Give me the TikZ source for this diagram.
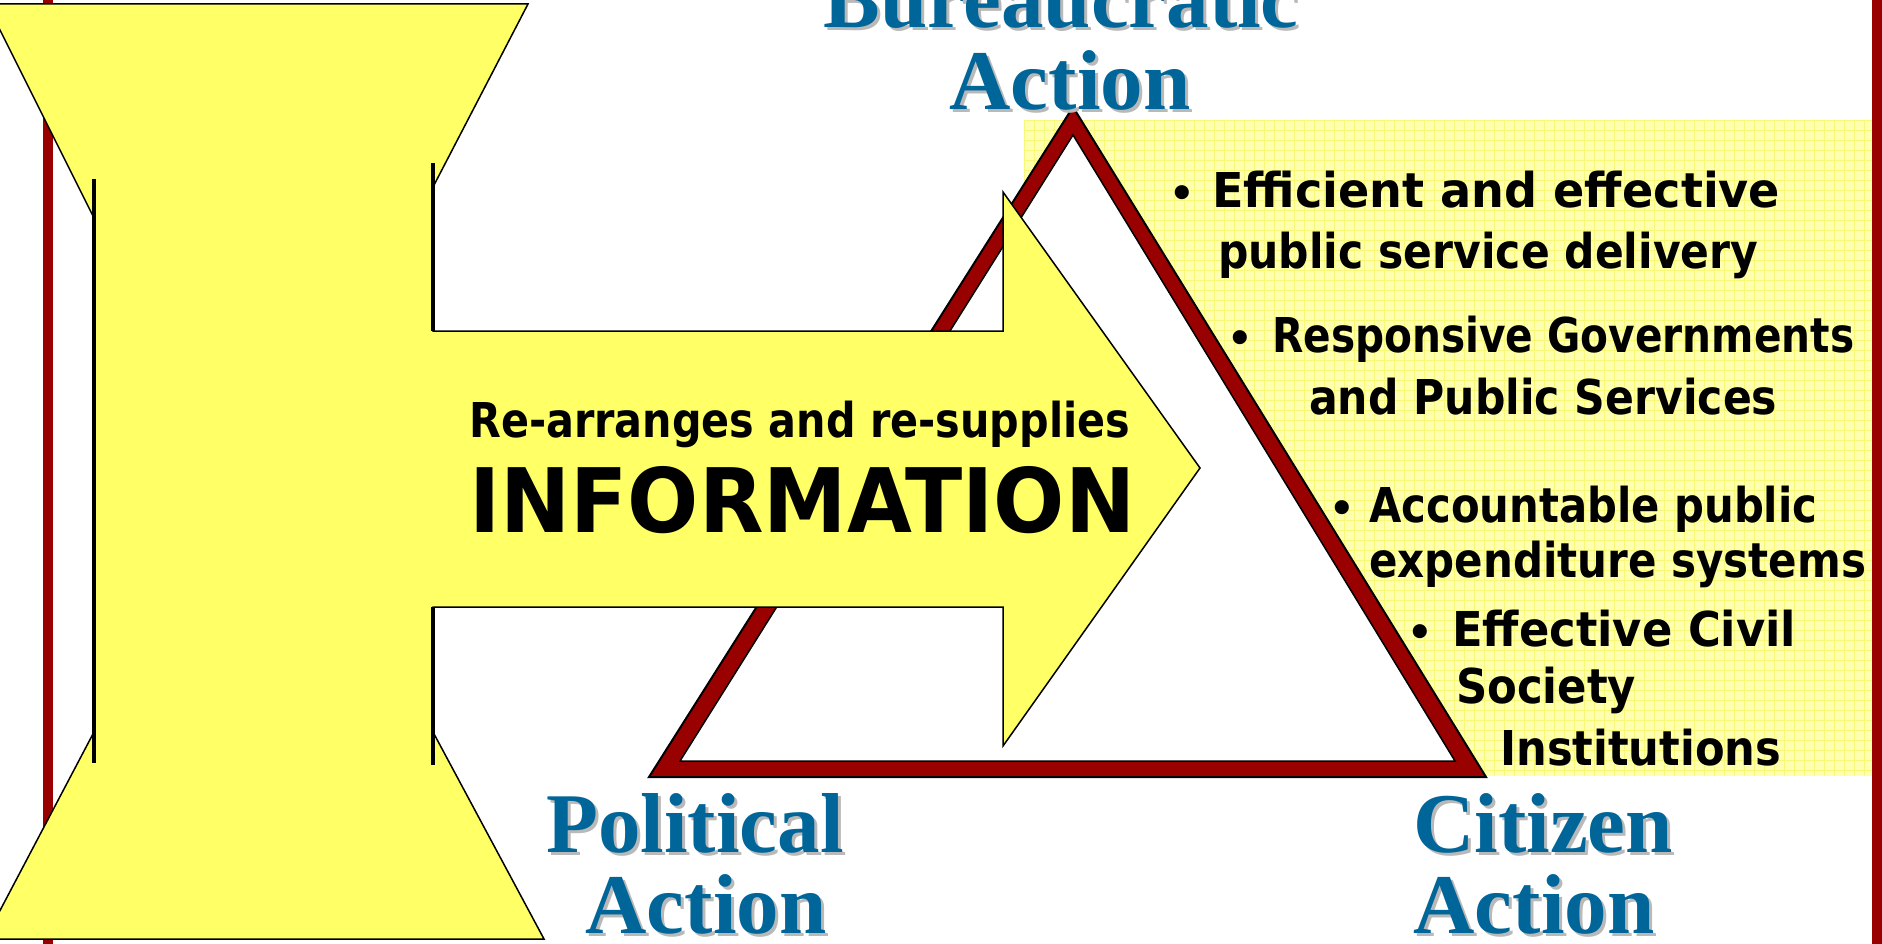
\documentclass[tikz,border=0pt]{standalone}
\usepackage{fontspec}
\setmainfont{Liberation Serif}
\newfontfamily\comicf{DejaVu Sans}
\usepackage{graphicx}
\definecolor{ylw}{RGB}{255,255,102}
\definecolor{boxy}{RGB}{255,255,176}
\definecolor{gridy}{RGB}{248,248,120}
\definecolor{dred}{RGB}{153,0,0}
\definecolor{tblue}{RGB}{0,102,153}
\definecolor{tshadow}{RGB}{185,185,185}
\newcommand\fitw[2]{\resizebox{#1pt}{\height}{#2}}
\newcommand\ttl[4]{\node[tshad] (#1s) at (#2+3,#3+3) {#4};\node[titletext] (#1) at (#2,#3) {#4};}
\newcommand\bl[5]{\node[bultext] (#1) at (#2,#4) {\fitw{#3}{#5}};}
\begin{document}
\begin{tikzpicture}[x=1pt,y=-1pt,
  titletext/.style={font=\bfseries\fontsize{85}{85}\selectfont, text=tblue, inner sep=0pt, anchor=base},
  tshad/.style={titletext, text=tshadow},
  bultext/.style={font=\comicf\bfseries\fontsize{48}{48}\selectfont, inner sep=0pt, anchor=base west},
  bigtext/.style={font=\comicf\bfseries\fontsize{89}{89}\selectfont, inner sep=0pt, anchor=base west},
  bulletdot/.style={font=\comicf\bfseries\fontsize{40}{40}\selectfont, inner sep=0pt, anchor=base},
  yshape/.style={fill=ylw, draw=black, line width=1.5pt, line join=miter},
  stemline/.style={draw=black, line width=3.5pt}
]
\useasboundingbox (0,0) rectangle (1882,944);
\clip (0,0) rectangle (1882,944);
\fill[white] (0,0) rectangle (1882,944);

% pale yellow grid box
\fill[boxy] (1024,120) rectangle (1872,776);
\foreach \gx in {1024,1034,...,1872} \draw[gridy, line width=0.7pt] (\gx,120) -- (\gx,776);
\foreach \gy in {120,130,...,776} \draw[gridy, line width=0.7pt] (1024,\gy) -- (1872,\gy);

% triangle
\filldraw[fill=dred, draw=black, line width=2pt] (1073,107) -- (649,777) -- (1486,777) -- cycle;
\filldraw[fill=white, draw=black, line width=1.5pt] (1073,135) -- (680,761) -- (1455,761) -- cycle;

% side red rules
\fill[dred] (43,0) rectangle (53,944);
\fill[dred] (1872,0) rectangle (1882,944);

% yellow I-shape with arrow
\path[yshape] (-13,4) -- (528,4) -- (433,187) -- (433,331) -- (1003,331) -- (1003,192)
  -- (1200,468) -- (1003,746) -- (1003,607) -- (433,607) -- (433,732) -- (544,939)
  -- (-15,939) -- (94,732) -- (94,218) -- cycle;
\draw[stemline] (94,179) -- (94,763);
\draw[stemline] (433,163) -- (433,331);
\draw[stemline] (433,607) -- (433,765);

% arrow texts
\bl{rearr}{469}{661}{437}{Re-arranges and re-supplies}
\node[bigtext] (info) at (469,532) {\fitw{666}{INFORMATION}};

% bullets
\node[bulletdot] (d1) at (1182,208) {•};
\bl{b1a}{1212}{568}{208}{Efficient and effective}
\bl{b1b}{1218}{540}{268}{public service delivery}
\node[bulletdot] (d2) at (1240,352) {•};
\bl{b2a}{1272}{582}{352}{Responsive Governments}
\bl{b2b}{1309}{468}{414}{and Public Services}
\node[bulletdot] (d3) at (1342,522) {•};
\bl{b3a}{1369}{448}{522}{Accountable public}
\bl{b3b}{1369}{497}{577}{expenditure systems}
\node[bulletdot] (d4) at (1420,646) {•};
\bl{b4a}{1452}{344}{646}{Effective Civil}
\bl{b4b}{1456}{180}{703}{Society}
\bl{b4c}{1500}{281}{765}{Institutions}

% titles
\ttl{bur}{1061}{28}{Bureaucratic}
\ttl{bact}{1070}{110}{Action}
\ttl{pol}{695}{852}{Political}
\ttl{pact}{706}{933}{Action}
\ttl{cit}{1543}{852}{Citizen}
\ttl{cact}{1534}{933}{Action}
\end{tikzpicture}
\end{document}
